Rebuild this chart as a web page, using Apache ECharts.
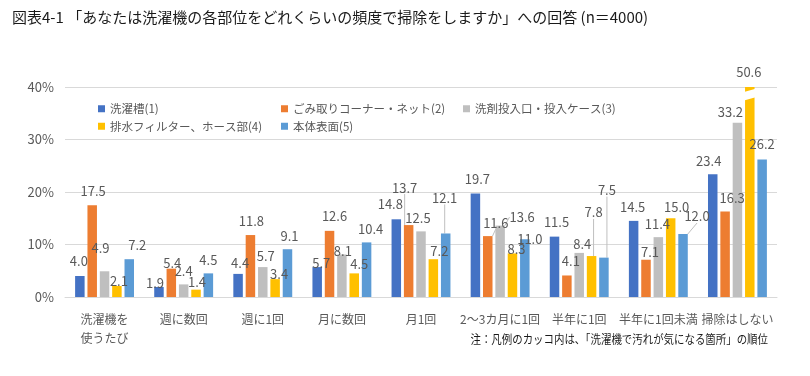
<!DOCTYPE html>
<html>
<head>
<meta charset="utf-8">
<script src="https://cdn.jsdelivr.net/npm/echarts@6/dist/echarts.min.js"></script>
<style>
    html, body { margin: 0; padding: 0; background: #fff; }
    #chart { width: 810px; height: 376px; }
</style>
</head>
<body>
<div id="chart"></div>
<script>
// カテゴリ（頻度）
const categories = ['洗濯機を\n使うたび', '週に数回', '週に1回', '月に数回', '月1回', '2～3カ月に1回', '半年に1回', '半年に1回未満', '掃除はしない']
// 系列名
const seriesNames = ['洗濯槽(1)', 'ごみ取りコーナー・ネット(2)', '洗剤投入口・投入ケース(3)', '排水フィルター、ホース部(4)', '本体表面(5)']
// 値（%）
const tubValues = [4.0, 1.9, 4.4, 5.7, 14.8, 19.7, 11.5, 14.5, 23.4]
const netValues = [17.5, 5.4, 11.8, 12.6, 13.7, 11.6, 4.1, 7.1, 16.3]
const detergentValues = [4.9, 2.4, 5.7, 8.1, 12.5, 13.6, 8.4, 11.4, 33.2]
const filterValues = [2.1, 1.4, 3.4, 4.5, 7.2, 8.3, 7.8, 15.0, 50.6]
const bodyValues = [7.2, 4.5, 9.1, 10.4, 12.1, 11.0, 7.5, 12.0, 26.2]
const yTicks = [0, 10, 20, 30, 40]

const AXIS_MAX = 40
const colorArr = ['#4472C4', '#ED7D31', '#BFBFBF', '#FFC000', '#5B9BD5']
const valueLists = [tubValues, netValues, detergentValues, filterValues, bodyValues]

// データラベルのずらし量 [dx, dy]（元図のラベル配置に合わせる）
const labelNudge = [
    [[-1, -1], [-4, 10], [2, 3], [4, 9], [-6, -2], [2, -1], [2, -1], [-1, 0], [-4, 0]],
    [[1, -1], [1, 8], [1, 0], [5, -1], [-4, -24], [8, 0], [4, -1], [4, 6], [7, 0]],
    [[-4, -10], [0, 0], [3, 2], [1, 10], [-3, 0], [22, 5], [3, 5], [-1, 0], [-7, 3]],
    [[2, 9], [1, 6], [4, 8], [5, 4], [6, 5], [4, 9], [2, -30], [6, 2], [-1, -1]],
    [[8, -1], [0, 0], [2, 0], [4, 0], [-1, -22], [5, 13], [3, -54], [14, -4], [0, -2]]
]
// 引き出し線を付けるラベル [系列, カテゴリ]
const leaderLines = [[1, 4], [4, 4], [1, 5], [2, 5], [3, 6], [4, 6], [4, 7]]

const BAR_WIDTH = 9.5
const BAR_GAP = 0.3
const FONT = '"Noto Sans CJK JP", "Noto Sans", sans-serif'
const TEXT_GRAY = '#595959'

const myChart = echarts.init(document.getElementById('chart'))

const hasLeader = (s, i) => leaderLines.some(v => v[0] === s && v[1] === i)

let seriesData = []
valueLists.map((list, s) => {
    seriesData.push({
        name: seriesNames[s],
        type: 'bar',
        barWidth: BAR_WIDTH,
        barGap: (BAR_GAP * 100) + '%',
        itemStyle: {
            color: colorArr[s]
        },
        label: {
            show: true,
            position: 'top',
            distance: 7,
            color: TEXT_GRAY,
            fontSize: 13,
            fontFamily: FONT,
            formatter: p => list[p.dataIndex].toFixed(1)
        },
        labelLine: {
            show: false,
            lineStyle: {
                color: '#BFBFBF',
                width: 1
            }
        },
        labelLayout: p => ({
            dx: labelNudge[s][p.dataIndex][0],
            dy: labelNudge[s][p.dataIndex][1]
        }),
        data: list.map((v, i) => ({
            value: Math.min(v, AXIS_MAX),
            labelLine: { show: hasLeader(s, i) }
        }))
    })
})

// 軸の上限を超えた棒の省略記号（切れ目）
const breakIdx = []
valueLists.map((list, s) => list.map((v, i) => { if (v > AXIS_MAX) breakIdx.push([i, s]) }))
seriesData.push({
    type: 'custom',
    z: 5,
    silent: true,
    data: breakIdx,
    renderItem: (params, api) => {
        const cat = api.value(0)
        const s = api.value(1)
        const pitch = BAR_WIDTH * (1 + BAR_GAP)
        const cx = api.coord([cat, 0])[0] + (s - 2) * pitch
        const half = BAR_WIDTH / 2 + 2
        const y = v => api.coord([cat, v])[1]
        return {
            type: 'polygon',
            shape: {
                points: [
                    [cx - half, y(39.0)],
                    [cx + half, y(39.7)],
                    [cx + half, y(38.1)],
                    [cx - half, y(37.4)]
                ]
            },
            style: { fill: '#fff' }
        }
    }
})

const legendBase = {
    orient: 'vertical',
    icon: 'rect',
    itemWidth: 7,
    itemHeight: 7,
    itemGap: 6,
    padding: 0,
    top: 103,
    textStyle: {
        color: TEXT_GRAY,
        fontSize: 11.5,
        fontFamily: FONT
    }
}

const option = {
    animation: false,
    textStyle: { fontFamily: FONT },
    title: {
        text: '図表4-1 「あなたは洗濯機の各部位をどれくらいの頻度で掃除をしますか」への回答 (n＝4000)',
        left: 7,
        top: 5,
        textStyle: {
            color: '#1a1a1a',
            fontSize: 15,
            fontWeight: 'normal',
            fontFamily: FONT
        }
    },
    legend: [
        Object.assign({}, legendBase, { left: 98, data: [seriesNames[0], seriesNames[3]] }),
        Object.assign({}, legendBase, { left: 281, data: [seriesNames[1], seriesNames[4]] }),
        Object.assign({}, legendBase, { left: 463, data: [seriesNames[2]] })
    ],
    grid: {
        left: 65,
        right: 33,
        top: 87,
        bottom: 79,
        containLabel: false
    },
    xAxis: {
        type: 'category',
        data: categories,
        axisTick: { show: false },
        axisLine: {
            lineStyle: { color: '#D9D9D9', width: 1 }
        },
        axisLabel: {
            color: TEXT_GRAY,
            fontSize: 12,
            fontFamily: FONT,
            margin: 13,
            lineHeight: 19,
            interval: 0
        }
    },
    yAxis: {
        type: 'value',
        min: yTicks[0],
        max: yTicks[yTicks.length - 1],
        interval: yTicks[1] - yTicks[0],
        axisLine: { show: false },
        axisTick: { show: false },
        splitLine: {
            lineStyle: { color: '#D9D9D9', width: 1 }
        },
        axisLabel: {
            color: TEXT_GRAY,
            fontSize: 13,
            fontFamily: FONT,
            margin: 11,
            formatter: '{value}%'
        }
    },
    graphic: [{
        type: 'text',
        right: 42,
        top: 333,
        scaleX: 0.87,
        style: {
            text: '注：凡例のカッコ内は、「洗濯機で汚れが気になる箇所」の順位',
            fill: '#1a1a1a',
            fontSize: 12,
            fontFamily: FONT
        }
    }],
    series: seriesData
}

myChart.setOption(option)
</script>
</body>
</html>
